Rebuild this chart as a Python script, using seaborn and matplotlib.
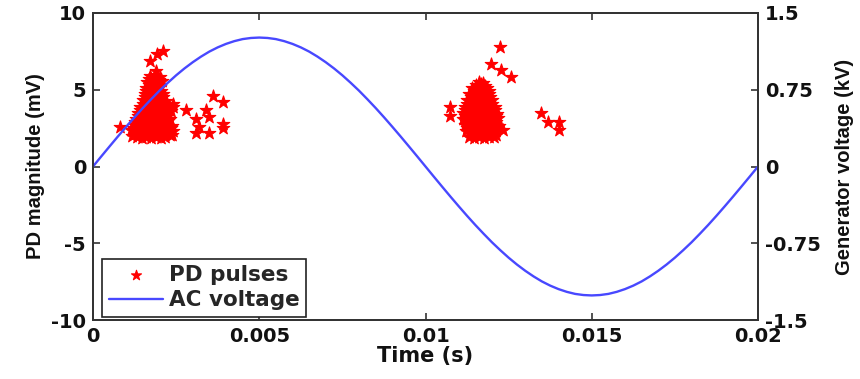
import matplotlib
matplotlib.use("Agg")
import matplotlib.pyplot as plt
import seaborn as sns

# ---------------- data ----------------
time_s = [0.00000, 0.00025, 0.00050, 0.00075, 0.00100, 0.00125, 0.00150, 0.00175, 0.00200, 0.00225,
          0.00250, 0.00275, 0.00300, 0.00325, 0.00350, 0.00375, 0.00400, 0.00425, 0.00450, 0.00475,
          0.00500, 0.00525, 0.00550, 0.00575, 0.00600, 0.00625, 0.00650, 0.00675, 0.00700, 0.00725,
          0.00750, 0.00775, 0.00800, 0.00825, 0.00850, 0.00875, 0.00900, 0.00925, 0.00950, 0.00975,
          0.01000, 0.01025, 0.01050, 0.01075, 0.01100, 0.01125, 0.01150, 0.01175, 0.01200, 0.01225,
          0.01250, 0.01275, 0.01300, 0.01325, 0.01350, 0.01375, 0.01400, 0.01425, 0.01450, 0.01475,
          0.01500, 0.01525, 0.01550, 0.01575, 0.01600, 0.01625, 0.01650, 0.01675, 0.01700, 0.01725,
          0.01750, 0.01775, 0.01800, 0.01825, 0.01850, 0.01875, 0.01900, 0.01925, 0.01950, 0.01975,
          0.02000]
ac_voltage_kv = [0.000, 0.099, 0.197, 0.294, 0.389, 0.482, 0.572, 0.658, 0.741, 0.818,
                 0.891, 0.958, 1.019, 1.074, 1.123, 1.164, 1.198, 1.225, 1.245, 1.256,
                 1.260, 1.256, 1.245, 1.225, 1.198, 1.164, 1.123, 1.074, 1.019, 0.958,
                 0.891, 0.818, 0.741, 0.658, 0.572, 0.482, 0.389, 0.294, 0.197, 0.099,
                 0.000, -0.099, -0.197, -0.294, -0.389, -0.482, -0.572, -0.658, -0.741, -0.818,
                 -0.891, -0.958, -1.019, -1.074, -1.123, -1.164, -1.198, -1.225, -1.245, -1.256,
                 -1.260, -1.256, -1.245, -1.225, -1.198, -1.164, -1.123, -1.074, -1.019, -0.958,
                 -0.891, -0.818, -0.741, -0.658, -0.572, -0.482, -0.389, -0.294, -0.197, -0.099,
                 0.000]

pd_pulses = [
    # ---- cluster on the rising positive half-cycle ----
    (0.00118, 2.00), (0.00132, 1.90), (0.00147, 1.85), (0.00160, 1.95), (0.00175, 1.85),
    (0.00190, 1.90), (0.00204, 1.85), (0.00218, 1.95), (0.00232, 2.05),
    (0.00125, 2.10), (0.00140, 2.15), (0.00154, 2.05), (0.00168, 2.10), (0.00183, 2.15),
    (0.00197, 2.05), (0.00211, 2.10), (0.00225, 2.15), (0.00238, 2.05),
    (0.00113, 2.35), (0.00128, 2.30), (0.00141, 2.25), (0.00156, 2.40), (0.00171, 2.30),
    (0.00186, 2.25), (0.00199, 2.35), (0.00213, 2.30), (0.00228, 2.40), (0.00241, 2.30),
    (0.00120, 2.50), (0.00134, 2.55), (0.00148, 2.45), (0.00163, 2.50), (0.00178, 2.55),
    (0.00192, 2.45), (0.00206, 2.50), (0.00220, 2.55), (0.00234, 2.50),
    (0.00122, 2.70), (0.00137, 2.75), (0.00151, 2.65), (0.00166, 2.80), (0.00180, 2.70),
    (0.00195, 2.65), (0.00209, 2.75), (0.00224, 2.70), (0.00238, 2.65),
    (0.00126, 2.90), (0.00141, 2.95), (0.00155, 2.85), (0.00170, 2.90), (0.00184, 2.95),
    (0.00198, 2.85), (0.00213, 2.90), (0.00227, 2.95),
    (0.00129, 3.10), (0.00144, 3.15), (0.00158, 3.05), (0.00173, 3.20), (0.00187, 3.10),
    (0.00202, 3.05), (0.00216, 3.15), (0.00231, 3.10),
    (0.00136, 3.30), (0.00151, 3.35), (0.00166, 3.25), (0.00180, 3.30), (0.00195, 3.35),
    (0.00209, 3.25), (0.00224, 3.30),
    (0.00135, 3.50), (0.00150, 3.55), (0.00164, 3.45), (0.00178, 3.60), (0.00193, 3.50),
    (0.00207, 3.45), (0.00221, 3.55), (0.00236, 3.60),
    (0.00142, 3.70), (0.00157, 3.75), (0.00171, 3.65), (0.00186, 3.70), (0.00200, 3.75),
    (0.00214, 3.65), (0.00229, 3.70),
    (0.00142, 3.90), (0.00156, 3.95), (0.00170, 3.85), (0.00185, 4.00), (0.00199, 3.90),
    (0.00214, 3.85), (0.00228, 3.95),
    (0.00149, 4.10), (0.00163, 4.15), (0.00177, 4.05), (0.00192, 4.10), (0.00206, 4.15),
    (0.00220, 4.05),
    (0.00150, 4.30), (0.00163, 4.35), (0.00177, 4.25), (0.00191, 4.40), (0.00205, 4.30),
    (0.00219, 4.25), (0.00240, 4.10),
    (0.00155, 4.50), (0.00169, 4.55), (0.00184, 4.45), (0.00198, 4.50), (0.00212, 4.55),
    (0.00156, 4.70), (0.00170, 4.75), (0.00184, 4.65), (0.00198, 4.80), (0.00212, 4.70),
    (0.00160, 4.90), (0.00175, 4.95), (0.00190, 4.85), (0.00204, 4.90),
    (0.00160, 5.10), (0.00174, 5.15), (0.00189, 5.05), (0.00203, 5.20),
    (0.00167, 5.30), (0.00182, 5.35), (0.00198, 5.25),
    (0.00163, 5.50), (0.00178, 5.55), (0.00194, 5.45), (0.00207, 5.60),
    (0.00168, 5.70), (0.00183, 5.75), (0.00197, 5.65),
    (0.00172, 5.90), (0.00186, 5.95), (0.00200, 5.85), (0.00190, 6.20),
    (0.00172, 6.85), (0.00193, 7.30), (0.00210, 7.50), (0.00080, 2.60),
    (0.00240, 3.90), (0.00280, 3.70), (0.00310, 3.10), (0.00340, 3.70), (0.00350, 3.20),
    (0.00360, 4.60), (0.00390, 4.20), (0.00310, 2.20), (0.00320, 2.60), (0.00350, 2.20),
    (0.00390, 2.50), (0.00392, 2.75),
    # ---- cluster on the falling negative-going half-cycle ----
    (0.01130, 1.90), (0.01145, 1.85), (0.01160, 1.95), (0.01175, 1.85), (0.01190, 1.90),
    (0.01205, 1.95),
    (0.01137, 2.10), (0.01152, 2.15), (0.01167, 2.05), (0.01182, 2.10), (0.01197, 2.15),
    (0.01212, 2.05),
    (0.01122, 2.30), (0.01137, 2.35), (0.01152, 2.25), (0.01167, 2.30), (0.01182, 2.35),
    (0.01197, 2.25), (0.01212, 2.30), (0.01232, 2.40),
    (0.01126, 2.50), (0.01141, 2.55), (0.01156, 2.45), (0.01171, 2.50), (0.01186, 2.55),
    (0.01201, 2.45), (0.01215, 2.50),
    (0.01118, 2.70), (0.01133, 2.65), (0.01148, 2.75), (0.01163, 2.70), (0.01178, 2.65),
    (0.01193, 2.75), (0.01208, 2.70), (0.01222, 2.65),
    (0.01121, 2.90), (0.01136, 2.95), (0.01151, 2.85), (0.01166, 2.90), (0.01181, 2.95),
    (0.01196, 2.85), (0.01211, 2.90),
    (0.01114, 3.10), (0.01129, 3.15), (0.01144, 3.05), (0.01159, 3.10), (0.01174, 3.15),
    (0.01189, 3.05), (0.01204, 3.10), (0.01218, 3.15),
    (0.01120, 3.30), (0.01136, 3.35), (0.01151, 3.25), (0.01166, 3.30), (0.01181, 3.35),
    (0.01196, 3.25), (0.01211, 3.30),
    (0.01113, 3.50), (0.01128, 3.45), (0.01143, 3.55), (0.01158, 3.50), (0.01173, 3.45),
    (0.01188, 3.55), (0.01203, 3.50), (0.01216, 3.45),
    (0.01120, 3.70), (0.01135, 3.75), (0.01150, 3.65), (0.01165, 3.70), (0.01180, 3.75),
    (0.01195, 3.65), (0.01210, 3.70),
    (0.01118, 3.90), (0.01133, 3.95), (0.01148, 3.85), (0.01163, 3.90), (0.01178, 3.95),
    (0.01193, 3.85), (0.01208, 3.90),
    (0.01126, 4.10), (0.01141, 4.15), (0.01156, 4.05), (0.01171, 4.10), (0.01186, 4.15),
    (0.01201, 4.05),
    (0.01125, 4.30), (0.01140, 4.25), (0.01155, 4.35), (0.01170, 4.30), (0.01185, 4.25),
    (0.01200, 4.35),
    (0.01137, 4.50), (0.01152, 4.55), (0.01167, 4.45), (0.01182, 4.50), (0.01195, 4.55),
    (0.01130, 4.70), (0.01145, 4.75), (0.01160, 4.65), (0.01175, 4.70), (0.01190, 4.75),
    (0.01147, 4.90), (0.01162, 4.95), (0.01177, 4.85), (0.01190, 4.90),
    (0.01140, 5.10), (0.01155, 5.05), (0.01170, 5.15), (0.01185, 5.10),
    (0.01152, 5.30), (0.01167, 5.35), (0.01180, 5.25),
    (0.01160, 5.50), (0.01172, 5.45),
    (0.01223, 7.80), (0.01196, 6.70), (0.01226, 6.30), (0.01256, 5.80),
    (0.01075, 3.90), (0.01075, 3.30), (0.01346, 3.50), (0.01367, 2.90),
    (0.01400, 2.90), (0.01400, 2.40),
]
pd_time_s = [p[0] for p in pd_pulses]
pd_magnitude_mv = [p[1] for p in pd_pulses]

x_ticks = [0, 0.005, 0.01, 0.015, 0.02]
x_tick_labels = ["0", "0.005", "0.01", "0.015", "0.02"]
left_ticks = [-10, -5, 0, 5, 10]
left_tick_labels = ["-10", "-5", "0", "5", "10"]
right_ticks = [-1.5, -0.75, 0, 0.75, 1.5]
right_tick_labels = ["-1.5", "-0.75", "0", "0.75", "1.5"]

# ---------------- style ----------------
sns.set_style("white")
plt.rcParams["font.family"] = ["DejaVu Sans"]
plt.rcParams["font.weight"] = "bold"

RED = "#ff0000"
BLUE = "#4848ff"
AX_COL = "#333333"

fig = plt.figure(figsize=(8.6, 3.79), dpi=100)
ax = fig.add_axes([93 / 860, 59 / 379, 665 / 860, 307 / 379])

sns.scatterplot(x=pd_time_s, y=pd_magnitude_mv, ax=ax, marker="*", s=90,
                color=RED, edgecolor=RED, linewidth=0.8, label="PD pulses", zorder=2)
ax.set_xlim(0, 0.02)
ax.set_ylim(-10, 10)

ax2 = ax.twinx()
sns.lineplot(x=time_s, y=ac_voltage_kv, ax=ax2, color=BLUE, linewidth=1.7,
             label="AC voltage")
ax2.set_ylim(-1.5, 1.5)

for a in (ax, ax2):
    for sp in a.spines.values():
        sp.set_color(AX_COL)
        sp.set_linewidth(1.3)

tick_font = dict(family="DejaVu Sans", weight="bold", size=14)
ax.set_xticks(x_ticks)
ax.set_xticklabels(x_tick_labels, fontdict=tick_font)
ax.set_yticks(left_ticks)
ax.set_yticklabels(left_tick_labels, fontdict=tick_font)
ax2.set_yticks(right_ticks)
ax2.set_yticklabels(right_tick_labels, fontdict=tick_font)

ax.tick_params(axis="both", direction="in", length=5, width=1.2, color=AX_COL,
               top=True, bottom=True, left=True, right=False, pad=5, labelcolor="#111111")
ax2.tick_params(axis="y", direction="in", length=5, width=1.2, color=AX_COL,
                right=True, left=False, pad=5, labelcolor="#111111")

ax.set_xlabel("Time (s)", fontsize=15, fontweight="bold", family="DejaVu Sans",
              color="#111111", labelpad=0)
ax.set_ylabel("PD magnitude (mV)", fontsize=14.5, fontweight="bold",
              family="Liberation Sans", color="#111111", labelpad=4)
ax2.set_ylabel("Generator voltage (kV)", fontsize=14.5, fontweight="bold",
               family="Liberation Sans", color="#111111", labelpad=10)

h1, l1 = ax.get_legend_handles_labels()
h2, l2 = ax2.get_legend_handles_labels()
if ax.get_legend() is not None:
    ax.get_legend().remove()
leg = ax2.legend(h1 + h2, l1 + l2, loc="lower left", bbox_to_anchor=(0.014, 0.01),
                 borderaxespad=0, frameon=True, fancybox=False, framealpha=1,
                 edgecolor="#222222", handlelength=2.5, labelspacing=0.25,
                 borderpad=0.3, handletextpad=0.3, markerscale=0.8,
                 prop=dict(family="DejaVu Sans", weight="bold", size=15.5))
leg.get_frame().set_linewidth(1.2)

fig.savefig("out.png", dpi=100)
